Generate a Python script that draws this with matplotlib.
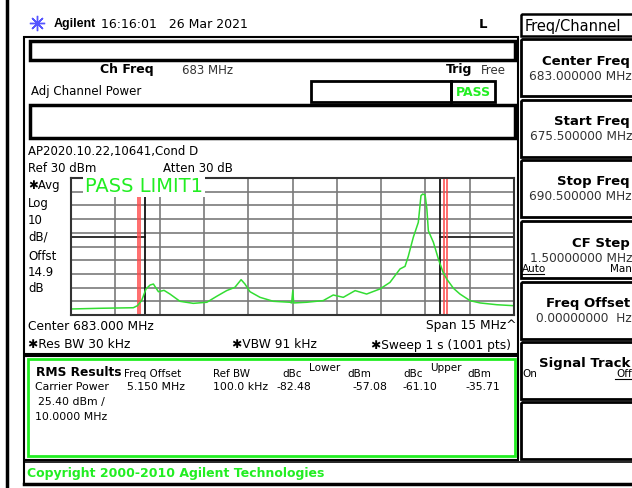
import matplotlib
matplotlib.use('Agg')
import matplotlib.pyplot as plt
from matplotlib.patches import Rectangle
import numpy as np

# trace (MHz, dBm as displayed)
freq = [675.52, 676.48, 677.61, 677.75, 677.89, 678.04, 678.18, 678.29, 678.46,
        678.65, 678.85, 679.19, 679.64, 680.10, 680.43, 680.77, 681.05, 681.26,
        681.39, 681.56, 681.90, 682.35, 682.92, 682.97, 683.01, 683.04, 683.48,
        684.04, 684.38, 684.72, 685.12, 685.51, 685.96, 686.30, 686.64, 686.81,
        686.92, 687.09, 687.26, 687.35, 687.41, 687.49, 687.55, 687.60, 687.77,
        687.94, 688.09, 688.22, 688.45, 688.67, 689.01, 689.35, 689.92, 690.48]
level = [-65.6, -65.1, -64.7, -63.2, -59.5, -51.0, -48.1, -47.4, -53.0,
         -52.0, -54.7, -60.0, -61.5, -60.7, -56.4, -52.2, -49.8, -44.2,
         -47.4, -53.0, -57.1, -60.0, -60.7, -61.2, -52.2, -61.2, -60.7,
         -59.5, -55.4, -57.1, -52.2, -54.7, -51.0, -46.2, -36.4, -34.5,
         -27.2, -13.3, -2.4, 17.1, 18.3, 17.6, 7.4, -8.5, -16.9,
         -29.1, -38.4, -43.7, -50.5, -54.7, -59.5, -61.2, -62.5, -63.2]

f_start = 675.5
f_stop = 690.5
ref_level = 30
db_div = 10
limit_db = -13
lower_edge = 678.0
upper_edge = 688.0
lower_int = [677.76, 677.84]
upper_int = [688.13, 688.24]

softkeys = [('Center Freq', '683.000000 MHz'),
            ('Start Freq', '675.500000 MHz'),
            ('Stop Freq', '690.500000 MHz'),
            ('CF Step', '1.50000000 MHz'),
            ('Freq Offset', '0.00000000  Hz'),
            ('Signal Track', '')]

GREEN = '#22ee22'
TRACE = '#33dd33'

plt.rcParams['font.family'] = 'DejaVu Sans'
fig = plt.figure(figsize=(6.32, 4.89), dpi=100)
bg = fig.add_axes([0, 0, 1, 1])
bg.set_xlim(0, 632)
bg.set_ylim(489, 0)
bg.axis('off')


def box(x0, y0, x1, y1, lw=1.5, color='black'):
    bg.add_patch(Rectangle((x0, y0), x1 - x0, y1 - y0, fill=False, lw=lw,
                           edgecolor=color, clip_on=True))


def txt(x, y, s, size=8.5, **kw):
    bg.text(x, y, s, fontsize=size, va='center', **kw)


# left edge line
bg.plot([7, 7], [0, 489], color='black', lw=2.5)

# header
bg.plot([37], [24], marker=(8, 2, 0), ms=11, color='#5555ff', mew=1)
txt(54, 24, 'Agilent', 9, weight='bold', family='Liberation Sans')
txt(101, 24, '16:16:01   26 Mar 2021', 9)
txt(479, 25, 'L', 9.5, weight='bold')

# main panel
box(24, 38, 518, 355, 1.5)
box(30, 42, 515, 61, 2.5)
txt(100, 70, 'Ch Freq', 9, weight='bold')
txt(182, 70, '683 MHz', 8.5, color='#333333')
txt(446, 70, 'Trig', 9, weight='bold')
txt(481, 70, 'Free', 8.5, color='#333333')
txt(31, 92, 'Adj Channel Power', 8.5)
box(311, 82, 451, 103, 2)
box(451, 82, 495, 103, 2)
txt(473, 92, 'PASS', 9, weight='bold', color=GREEN, ha='center')
box(30, 106, 515, 139, 2.5)
txt(28, 151, 'AP2020.10.22,10641,Cond D', 8.5)
txt(28, 169, 'Ref 30 dBm', 8.5)
txt(163, 169, 'Atten 30 dB', 8.5)
for yy, s in zip([185, 203, 220, 237, 256, 272, 288],
                 ['\u2731Avg', 'Log', '10', 'dB/', 'Offst', '14.9', 'dB']):
    txt(28, yy, s, 8.5)
txt(28, 326, 'Center 683.000 MHz', 8.8)
txt(517, 326, 'Span 15 MHz^', 8.8, ha='right')
txt(28, 345, '\u2731Res BW 30 kHz', 8.8)
txt(232, 345, '\u2731VBW 91 kHz', 8.8)
txt(511, 345, '\u2731Sweep 1 s (1001 pts)', 8.8, ha='right')

# RMS results box
box(24, 357, 518, 461, 1.5)
box(28, 360, 515, 457, 2, GREEN)
txt(36, 372, 'RMS Results', 8.8, weight='bold')
txt(124, 374, 'Freq Offset', 7.5)
txt(213, 374, 'Ref BW', 7.5)
txt(282, 374, 'dBc', 7.5)
txt(309, 368, 'Lower', 7.5)
txt(347, 374, 'dBm', 7.5)
txt(403, 374, 'dBc', 7.5)
txt(430, 368, 'Upper', 7.5)
txt(467, 374, 'dBm', 7.5)
txt(35, 387, 'Carrier Power', 7.8)
txt(127, 387, '5.150 MHz', 7.8)
txt(213, 387, '100.0 kHz', 7.8)
txt(276, 387, '-82.48', 7.8)
txt(352, 387, '-57.08', 7.8)
txt(402, 387, '-61.10', 7.8)
txt(465, 387, '-35.71', 7.8)
txt(38, 402, '25.40 dBm /', 7.8)
txt(35, 417, '10.0000 MHz', 7.8)

# copyright bar
bg.plot([24, 632], [463, 463], color='black', lw=1.2)
bg.plot([24, 632], [485, 485], color='black', lw=2.5)
bg.plot([24, 24], [463, 485], color='black', lw=1.5)
txt(27, 474, 'Copyright 2000-2010 Agilent Technologies', 9, weight='bold', color=GREEN)

# softkey panel
box(521, 15, 640, 37, 1.8)
txt(525, 26, 'Freq/Channel', 10.5)
tops = [40, 101, 161, 222, 283, 343, 403]
for i, t in enumerate(tops):
    box(521, t, 640, t + 57, 2)
    if i < len(softkeys):
        label, value = softkeys[i]
        txt(630, t + 21, label, 9.5, weight='bold', ha='right')
        if value:
            txt(632, t + 36, value, 8.7, ha='right', color='#333333')
txt(522, 269, 'Auto', 7.5)
bg.plot([522, 544], [274.5, 274.5], color='black', lw=0.8)
txt(632, 269, 'Man', 7.5, ha='right')
txt(522, 374, 'On', 7.5)
txt(632, 374, 'Off', 7.5, ha='right')
bg.plot([615, 632], [379.5, 379.5], color='black', lw=0.8)

# spectrum graticule
ax = fig.add_axes([71 / 632, (489 - 316) / 489, 443 / 632, 137 / 489])
ax.set_xlim(f_start, f_stop)
ax.set_ylim(ref_level - 10 * db_div, ref_level)
ax.set_xticks(np.linspace(f_start, f_stop, 11))
ax.set_yticks(np.arange(ref_level - 10 * db_div, ref_level + 1, db_div))
ax.tick_params(length=0, labelbottom=False, labelleft=False)
ax.grid(True, color='#7a7a7a', lw=1.2)
for sp in ax.spines.values():
    sp.set_color('#333333')
    sp.set_linewidth(1.5)

ax.plot([f_start, lower_edge], [limit_db, limit_db], color='#222222', lw=1.3)
ax.plot([upper_edge, f_stop], [limit_db, limit_db], color='#222222', lw=1.3)
for f in lower_int + upper_int:
    ax.axvline(f, color='#ff4545', lw=1.1)
ax.axvline(lower_edge, color='#111111', lw=1.3)
ax.axvline(upper_edge, color='#111111', lw=1.3)
ax.plot(freq, level, color=TRACE, lw=1.1)

ax.text(675.98, 24.7, 'PASS LIMIT1', fontsize=14, color=GREEN, va='center',
        bbox=dict(facecolor='white', edgecolor='none', pad=1.5))

fig.savefig('out.png', dpi=100)
